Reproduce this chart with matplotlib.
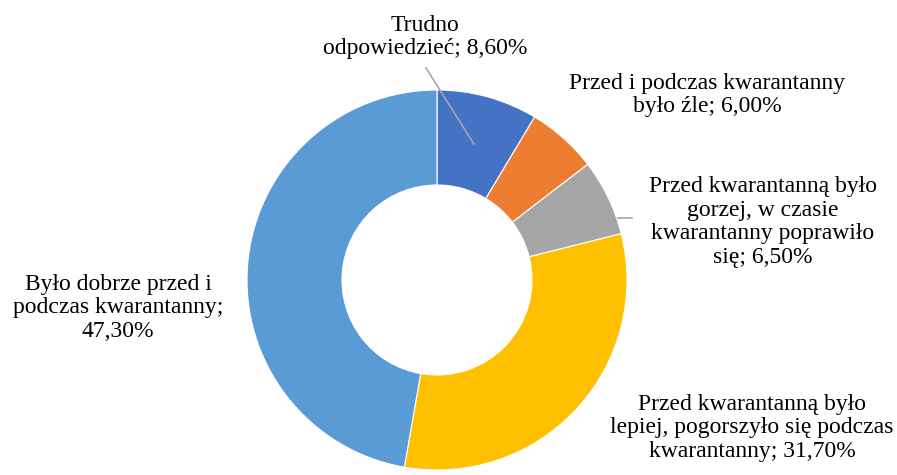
import matplotlib.pyplot as plt

# dane
labels = [
    "Trudno\nodpowiedzieć; 8,60%",
    "Przed i podczas kwarantanny\nbyło źle; 6,00%",
    "Przed kwarantanną było\ngorzej, w czasie\nkwarantanny poprawiło\nsię; 6,50%",
    "Przed kwarantanną było\nlepiej, pogorszyło się podczas\nkwarantanny; 31,70%",
    "Było dobrze przed i\npodczas kwarantanny;\n47,30%",
]
values = [8.6, 6.0, 6.5, 31.7, 47.3]
colors = ["#4472C4", "#ED7D31", "#A5A5A5", "#FFC000", "#5B9BD5"]

W, H = 897, 475
fig = plt.figure(figsize=(W / 100, H / 100), dpi=100)
ax = fig.add_axes([0, 0, 1, 1])

ax.pie(values, colors=colors, startangle=90, counterclock=False,
       center=(437, H - 280), radius=190, frame=True,
       wedgeprops=dict(width=95, edgecolor="white", linewidth=0.8))

ax.set_xlim(0, W)
ax.set_ylim(0, H)
ax.set_aspect("auto")
ax.axis("off")

# pozycje etykiet (piksele)
label_pos = [(425, 37), (707, 95), (763, 222), (752, 428), (118, 308)]
for txt, (x, y) in zip(labels, label_pos):
    ax.text(x, H - y, txt, ha="center", va="center", fontsize=17,
            family="Liberation Serif", linespacing=1.15, color="black")

# linie odniesienia
ax.plot([426, 474], [H - 68, H - 144], color="#A6A6A6", lw=1.2)
ax.plot([618, 632], [H - 218, H - 218], color="#A6A6A6", lw=1.2)

fig.savefig("out.png", dpi=100)
